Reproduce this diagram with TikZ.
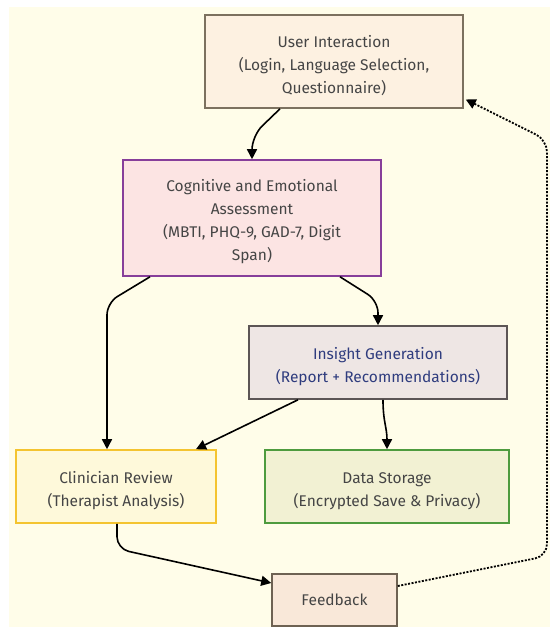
\documentclass[tikz,border=0pt]{standalone}
\usepackage{fontspec}
\setmainfont{Fira Sans}
\usetikzlibrary{arrows.meta}
\definecolor{bgc}{HTML}{FFFDE9}
\definecolor{txt}{HTML}{454545}
\definecolor{uif}{HTML}{FDF1E1}\definecolor{uid}{HTML}{7C715F}
\definecolor{cgf}{HTML}{FCE4E3}\definecolor{cgd}{HTML}{873E9A}
\definecolor{igf}{HTML}{EEE6E4}\definecolor{igd}{HTML}{5C5555}\definecolor{igt}{HTML}{2F3C7E}
\definecolor{clf}{HTML}{FEF9DA}\definecolor{cld}{HTML}{F4C430}
\definecolor{dsf}{HTML}{F2F1D3}\definecolor{dsd}{HTML}{4E9B3E}
\definecolor{fbf}{HTML}{F9E8D9}\definecolor{fbd}{HTML}{6E6253}
\newcommand\topgap{\rule{0pt}{19.5pt}}
\tikzset{
  box/.style={draw, line width=1.6pt, align=center, text=txt, inner sep=0pt,
    font=\fontsize{15.5}{23}\selectfont},
  conn/.style={line width=1.6pt, black, -{Triangle[length=10pt,width=10pt]}},
  dotconn/.style={conn, line width=1.8pt, dash pattern=on 2pt off 1.5pt},
}
\begin{document}
\begin{tikzpicture}[x=1pt,y=-1pt]
\useasboundingbox (0,0) rectangle (550,627);
\fill[white] (0,0) rectangle (550,627);
\fill[bgc] (9,7) rectangle (550,627);
\node[box, fill=uif, draw=uid, minimum width=258pt, minimum height=93pt] (ui) at (334,61.5)
  {\topgap User Interaction\\(Login, Language Selection,\\Questionnaire)};
\node[box, fill=cgf, draw=cgd, minimum width=258pt, minimum height=116pt] (cg) at (252,218)
  {\topgap Cognitive and Emotional\\Assessment\\(MBTI, PHQ-9, GAD-7, Digit\\Span)};
\node[box, fill=igf, draw=igd, text=igt, minimum width=258pt, minimum height=73pt] (ig) at (378,362.5)
  {\topgap Insight Generation\\(Report + Recommendations)};
\node[box, fill=clf, draw=cld, minimum width=200pt, minimum height=73pt] (cl) at (116,486.5)
  {\topgap Clinician Review\\(Therapist Analysis)};
\node[box, fill=dsf, draw=dsd, minimum width=244pt, minimum height=73pt] (ds) at (387,486.5)
  {\topgap Data Storage\\(Encrypted Save \& Privacy)};
\node[box, fill=fbf, draw=fbd, minimum width=125pt, minimum height=52pt] (fb) at (334.5,600)
  {Feedback};
\draw[conn, rounded corners=14pt] ([xshift=-54pt]ui.south) -- ([yshift=-27pt]ui.south -| cg.north) -- (cg.north);
\draw[conn, rounded corners=12pt] ([xshift=-102pt]cg.south) -- ([xshift=-9pt,yshift=-26pt]cg.south -| cl.north) -- ([xshift=-9pt]cl.north);
\draw[conn, rounded corners=12pt] ([xshift=88pt]cg.south) -- ([yshift=-24pt]cg.south -| ig.north) -- (ig.north);
\draw[conn] ([xshift=-80pt]ig.south) -- ([xshift=80pt]cl.north);
\draw[conn] ([xshift=5pt]ig.south) .. controls ++(0,22) and ++(0,-22) .. (ds.north);
\draw[conn, rounded corners=12pt] ([xshift=1pt]cl.south) -- ++(0,25) -- ([yshift=17pt]fb.west);
\draw[dotconn, rounded corners=12pt] ([yshift=14pt]fb.east) -- (547,556) -- (547,140) -- ([xshift=2pt,yshift=-38pt]ui.east);
\end{tikzpicture}
\end{document}
